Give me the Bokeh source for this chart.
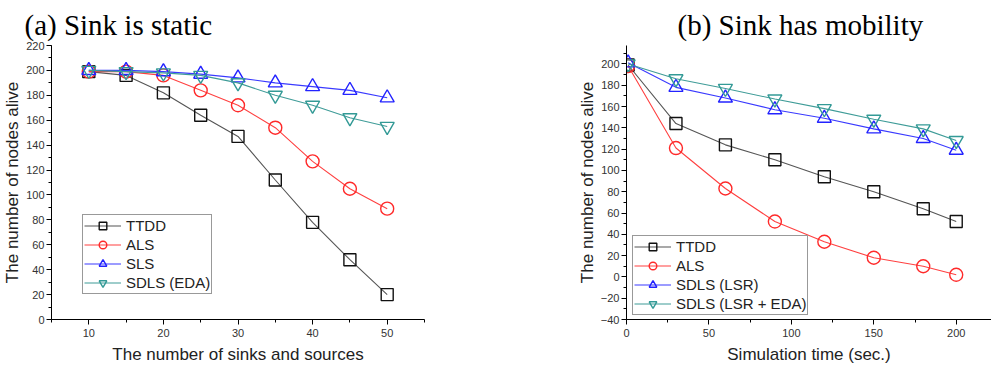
from bokeh.plotting import figure
from bokeh.layouts import row
from bokeh.models import Legend, LegendItem, SingleIntervalTicker, Range1d, Title
from bokeh.embed import file_html
from bokeh.resources import INLINE

# ---- (a) Sink is static ----
a_x = [10, 15, 20, 25, 30, 35, 40, 45, 50]
a_ttdd = [199, 196, 182, 164, 147, 112, 78, 48, 20]
a_als = [199, 199, 196, 184, 172, 154, 127, 105, 89]
a_sls = [200, 200, 199, 197, 194, 190, 187, 184, 178]
a_sdls = [200, 199, 198, 196, 190, 180, 172, 162, 155]
a_labels = ["TTDD", "ALS", "SLS", "SDLS (EDA)"]

# ---- (b) Sink has mobility ----
b_x = [1, 30, 60, 90, 120, 150, 180, 200]
b_ttdd = [199, 144, 124, 110, 94, 80, 64, 52]
b_als = [198, 121, 83, 52, 33, 18, 10, 2]
b_lsr = [201, 178, 168, 157, 149, 139, 130, 119]
b_lsr_eda = [200, 186, 177, 167, 158, 148, 139, 128]
b_labels = ["TTDD", "ALS", "SDLS (LSR)", "SDLS (LSR + EDA)"]

COLORS = ["#111111", "#ff2a2a", "#2323ff", "#339a96"]
LINE_COLORS = ["#555555", "#ff4040", "#3a3aff", "#3f9c98"]
MARKERS = ["square", "circle", "triangle", "inverted_triangle"]
SIZES = [12, 13, 14, 14]
SANS = "Liberation Sans"
SERIF = "Liberation Serif"


def make_fig(xr, yr, xint, yint, left_border, frame_w, right_border,
             title, title_offset, xlabel):
    p = figure(output_backend="svg", toolbar_location=None,
               x_range=Range1d(*xr), y_range=Range1d(*yr),
               frame_width=frame_w, frame_height=274,
               min_border_left=left_border, min_border_right=right_border,
               min_border_top=45, min_border_bottom=39)
    p.outline_line_color = None
    p.grid.visible = False
    p.background_fill_color = "white"
    p.border_fill_color = "white"
    p.xaxis.ticker = SingleIntervalTicker(interval=xint, num_minor_ticks=2)
    p.yaxis.ticker = SingleIntervalTicker(interval=yint, num_minor_ticks=2)
    for ax in (p.xaxis[0], p.yaxis[0]):
        ax.axis_line_color = "black"
        ax.axis_line_width = 1
        ax.major_tick_line_color = "black"
        ax.minor_tick_line_color = "black"
        ax.major_tick_in = 0
        ax.minor_tick_in = 0
        ax.major_tick_out = 5
        ax.minor_tick_out = 3
        ax.major_label_text_font = SANS
        ax.major_label_text_font_size = "11px"
        ax.major_label_text_color = "#333333"
        ax.major_label_standoff = 2
        ax.axis_label_text_font = SANS
        ax.axis_label_text_font_size = "17px"
        ax.axis_label_text_font_style = "normal"
        ax.axis_label_text_color = "#222222"
        ax.axis_label_standoff = 1
    p.xaxis.axis_label_standoff = 5
    p.xaxis.major_label_standoff = 4
    p.xaxis.axis_label = xlabel
    p.yaxis.axis_label = "The number of nodes alive"
    p.add_layout(Title(text=title, align="left", offset=title_offset,
                       text_font=SERIF, text_font_size="29px",
                       text_font_style="normal", text_color="black",
                       standoff=9), "above")
    return p


def add_series(p, x, ys, labels, loc):
    items = []
    for i, (y, lab) in enumerate(zip(ys, labels)):
        ln = p.line(x, y, line_color=LINE_COLORS[i], line_width=1.1)
        sc = p.scatter(x, y, marker=MARKERS[i], size=SIZES[i],
                       line_color=COLORS[i], line_width=1.4, fill_color=None)
        items.append(LegendItem(label=lab, renderers=[ln, sc]))
    leg = Legend(items=items, location=loc, glyph_width=37, glyph_height=19,
                 label_height=19, spacing=0, padding=1, margin=0,
                 label_standoff=5, label_text_font=SANS,
                 label_text_font_size="15px", label_text_color="#222222",
                 border_line_color="#333333", border_line_width=1.3,
                 background_fill_color="white", background_fill_alpha=1)
    p.add_layout(leg, "center")


p1 = make_fig((5, 55), (0, 220), 10, 20, 44, 373, 75,
              "(a) Sink is static", -27, "The number of sinks and sources")
add_series(p1, a_x, [a_ttdd, a_als, a_sls, a_sdls], a_labels, (31, 25))

p2 = make_fig((0, 221.4), (-40, 217.3), 50, 20, 127, 365, 0,
              "(b) Sink has mobility", 51, "Simulation time (sec.)")
add_series(p2, b_x, [b_ttdd, b_als, b_lsr, b_lsr_eda], b_labels, (6, 4))

layout = row(p1, p2)
open("out.html", "w").write(file_html(layout, INLINE))
